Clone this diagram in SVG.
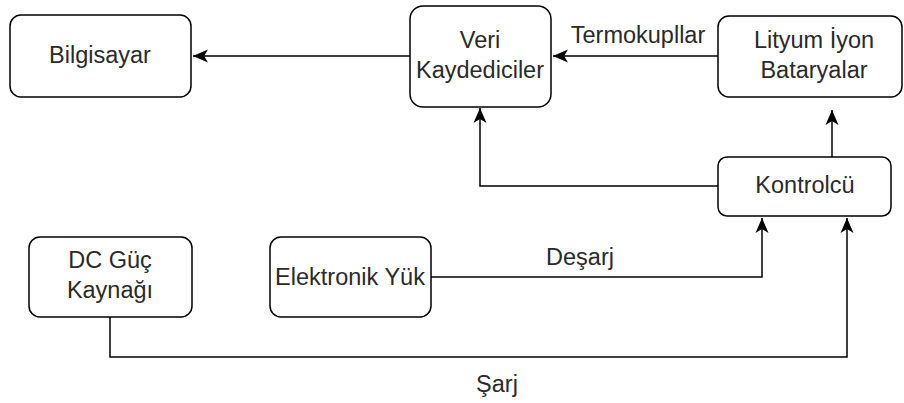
<svg xmlns="http://www.w3.org/2000/svg" width="904" height="403" viewBox="0 0 904 403">
<defs>
<style>
.box{fill:#fff;stroke:#000;stroke-width:1.5}
.t{font-family:"Liberation Sans",Arial,sans-serif;font-size:23.5px;fill:#2a2a2a;text-anchor:middle}
.c{fill:none;stroke:#000;stroke-width:1.5}
</style>
<marker id="ah" viewBox="0 0 16 14" refX="15" refY="7" markerWidth="16" markerHeight="14" markerUnits="userSpaceOnUse" orient="auto">
<path d="M15,7 L0,0.5 L4,7 L0,13.5 Z" fill="#000"/>
</marker>
</defs>
<rect width="904" height="403" fill="#fff"/>
<g id="connectors">
<path class="c" d="M410,56 H193" marker-end="url(#ah)"/>
<path class="c" d="M718,56 H553" marker-end="url(#ah)"/>
<path class="c" d="M832,157 V110" marker-end="url(#ah)"/>
<path class="c" d="M718,186 H480 V108" marker-end="url(#ah)"/>
<path class="c" d="M431,277 H762 V218" marker-end="url(#ah)"/>
<path class="c" d="M110,317 V357 H847 V218" marker-end="url(#ah)"/>
<text class="t" x="638" y="43">Termokupllar</text>
<text class="t" x="580" y="265">Deşarj</text>
<text class="t" x="497" y="392">Şarj</text>
</g>
<g id="bilgisayar">
<rect class="box" x="10" y="15" width="181" height="82" rx="11"/>
<text class="t" x="100" y="63">Bilgisayar</text>
</g>
<g id="veri">
<rect class="box" x="410" y="6" width="141" height="101" rx="13"/>
<text class="t" x="480" y="48">Veri</text>
<text class="t" x="480" y="78">Kaydediciler</text>
</g>
<g id="lityum">
<rect class="box" x="718" y="16" width="184" height="81" rx="11"/>
<text class="t" x="814" y="48">Lityum İyon</text>
<text class="t" x="814" y="78">Bataryalar</text>
</g>
<g id="kontrolcu">
<rect class="box" x="718" y="157" width="173" height="59" rx="9"/>
<text class="t" x="805" y="193">Kontrolcü</text>
</g>
<g id="dc">
<rect class="box" x="29" y="237" width="163" height="80" rx="11"/>
<text class="t" x="110" y="268">DC Güç</text>
<text class="t" x="110" y="298">Kaynağı</text>
</g>
<g id="yuk">
<rect class="box" x="270" y="237" width="161" height="80" rx="11"/>
<text class="t" x="350" y="285">Elektronik Yük</text>
</g>
</svg>
